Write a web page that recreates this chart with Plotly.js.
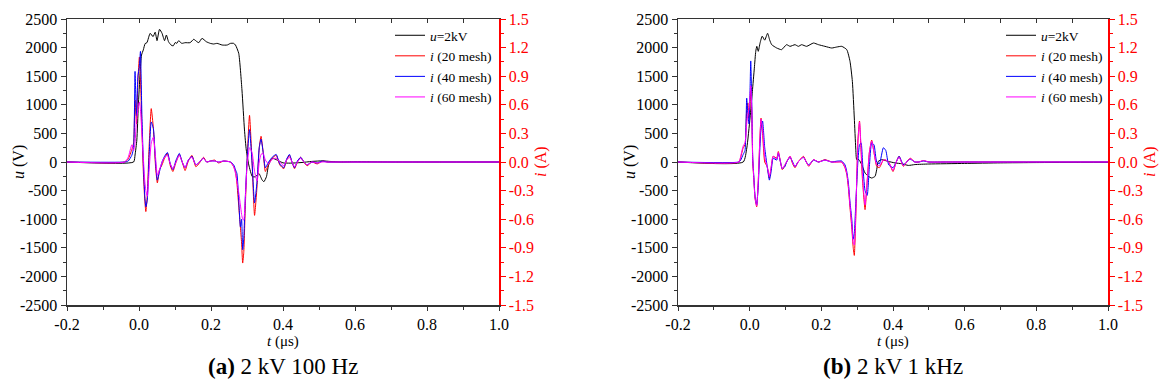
<!DOCTYPE html>
<html>
<head>
<meta charset="utf-8">
<script src="https://cdn.plot.ly/plotly-3.0.1.min.js"></script>
<style>html,body{margin:0;padding:0;background:#fff;}#chart{width:1166px;height:384px;}</style>
</head>
<body>
<div id="chart"></div>
<script>
// ---------- tick labels ----------
const tTicks = [-0.2, 0.0, 0.2, 0.4, 0.6, 0.8, 1.0];
const tLabels = ["-0.2", "0.0", "0.2", "0.4", "0.6", "0.8", "1.0"];
const uTicks = [-2500, -2000, -1500, -1000, -500, 0, 500, 1000, 1500, 2000, 2500];
const uLabels = ["-2500", "-2000", "-1500", "-1000", "-500", "0", "500", "1000", "1500", "2000", "2500"];
const iTicks = [-1.5, -1.2, -0.9, -0.6, -0.3, 0.0, 0.3, 0.6, 0.9, 1.2, 1.5];
const iLabels = ["-1.5", "-1.2", "-0.9", "-0.6", "-0.3", "0.0", "0.3", "0.6", "0.9", "1.2", "1.5"];

const seriesNames = ["<i>u</i>=2kV", "<i>i</i> (20 mesh)", "<i>i</i> (40 mesh)", "<i>i</i> (60 mesh)"];
const captions = ["<b>(a)</b> 2 kV 100 Hz", "<b>(b)</b> 2 kV 1 kHz"];
const axisTitles = {u: "<i>u</i> (V)", i: "<i>i</i> (A)", t: "<i>t</i> (μs)"};

// ---------- (a) 2 kV 100 Hz ----------
const tU_a = [-0.2, -0.015, -0.011, -0.006, -0.002, 0.003, 0.007, 0.012, 0.017, 0.022,
  0.031, 0.039, 0.045, 0.050, 0.057, 0.064, 0.071, 0.076, 0.082, 0.089,
  0.095, 0.101, 0.105, 0.110, 0.119, 0.128, 0.142, 0.152, 0.161, 0.166,
  0.175, 0.187, 0.198, 0.207, 0.217, 0.231, 0.245, 0.254, 0.263, 0.268,
  0.277, 0.286, 0.293, 0.298, 0.305, 0.315, 0.324, 0.333, 0.342, 0.347,
  0.354, 0.360, 0.370, 0.385, 0.40, 0.42, 0.45, 0.48, 0.51, 0.53,
  0.56, 0.6, 0.7, 1.0];
const u_a = [0, 0, 122, 385, 967, 1550, 1870, 1960, 2070, 2086,
  2250, 2191, 2270, 2121, 2320, 2250, 2121, 2220, 2103, 2045,
  2030, 2090, 2074, 2120, 2074, 2086, 2086, 2145, 2103, 2086,
  2162, 2103, 2074, 2063, 2074, 2045, 2045, 2074, 2074, 2045,
  1900, 1259, 560, 210, -52, -257, -257, -200, -315, -344,
  -257, -52, 65, 30, -15, -20, -10, 10, 20, 10,
  0, 5, 0, 0];

const tI_a = [-0.2, -0.04, -0.03, -0.02, -0.015, -0.011, -0.007, -0.003, 0.001, 0.004,
  0.008, 0.012, 0.016, 0.019, 0.023, 0.028, 0.034, 0.040, 0.046, 0.051,
  0.057, 0.064, 0.071, 0.079, 0.087, 0.094, 0.103, 0.112, 0.120, 0.128,
  0.137, 0.147, 0.158, 0.168, 0.179, 0.188, 0.198, 0.21, 0.221, 0.235,
  0.254, 0.263, 0.268, 0.272, 0.277, 0.2816, 0.285, 0.288, 0.291, 0.295,
  0.30, 0.307, 0.314, 0.321, 0.328, 0.334, 0.339, 0.345, 0.351, 0.36,
  0.370, 0.381, 0.391, 0.402, 0.410, 0.418, 0.425, 0.432, 0.440, 0.449,
  0.458, 0.467, 0.48, 0.495, 0.51, 0.523, 0.55, 0.6, 1.0];
const i20_a = [0, 0, 0.03, 0.13, 0.2, 0.65, 0.4, 0.85, 1.10, 0.9,
  0.35, -0.1, -0.4, -0.52, -0.35, 0.15, 0.56, 0.35, -0.05, -0.22,
  -0.08, -0.03, 0.04, 0.09, -0.04, -0.10, 0.0, 0.08, 0.0, -0.09,
  0.01, 0.07, -0.05, -0.01, 0.05, 0.0, 0.01, 0.02, -0.01, 0.01,
  0.0, -0.05, -0.10, -0.22, -0.46, -0.68, -0.85, -1.06, -0.95, -0.5,
  0.0, 0.49, 0.0, -0.56, -0.25, 0.15, 0.27, 0.1, -0.10, -0.02,
  0.04, 0.07, -0.03, -0.07, 0.02, 0.07, 0.0, -0.07, 0.0, 0.05,
  0.0, -0.04, 0.0, -0.02, 0.01, 0, 0, 0, 0];
const i40_a = [0, 0, 0.01, 0.07, 0.15, 0.95, 0.48, 0.9, 1.0, 1.16,
  0.5, 0.0, -0.35, -0.47, -0.4, 0.05, 0.42, 0.35, 0.0, -0.19,
  -0.1, 0.0, 0.06, 0.1, -0.02, -0.08, 0.02, 0.09, 0.0, -0.06,
  0.02, 0.06, -0.03, 0.0, 0.04, 0.0, 0.01, 0.01, 0.0, 0.01,
  0.0, -0.03, -0.08, -0.12, -0.4, -0.68, -0.6, -0.92, -0.8, -0.4,
  0.0, 0.34, 0.0, -0.43, -0.2, 0.15, 0.24, 0.1, -0.06, 0.0,
  0.05, 0.08, -0.02, -0.06, 0.03, 0.08, 0.0, -0.06, 0.01, 0.05,
  0.0, -0.03, 0.0, -0.01, 0.01, 0, 0, 0, 0];
const i60_a = [0, 0, 0.05, 0.18, 0.12, 0.2, 0.45, 0.55, 0.63, 0.55,
  0.3, 0.05, -0.2, -0.3, -0.36, -0.1, 0.2, 0.26, 0.05, -0.14,
  -0.08, 0.0, 0.05, 0.07, -0.02, -0.07, 0.0, 0.07, 0.0, -0.06,
  0.02, 0.05, -0.03, 0.0, 0.04, 0.0, 0.01, 0.01, 0.0, 0.01,
  0.0, -0.05, -0.12, -0.2, -0.32, -0.45, -0.55, -0.6, -0.61, -0.4,
  -0.05, 0.15, 0.1, -0.1, -0.2, 0.0, 0.08, 0.09, 0.02, -0.02,
  0.03, 0.04, 0.0, -0.04, 0.02, 0.05, 0.0, -0.05, 0.0, 0.04,
  0.0, -0.03, 0.0, -0.01, 0.0, 0, 0, 0, 0];

// ---------- (b) 2 kV 1 kHz ----------
const tU_b = [-0.2, -0.018, -0.008, 0.001, 0.0075, 0.013, 0.017, 0.020, 0.024, 0.029,
  0.035, 0.042, 0.050, 0.056, 0.0615, 0.0754, 0.089, 0.103, 0.1126, 0.1265,
  0.136, 0.145, 0.159, 0.178, 0.192, 0.210, 0.229, 0.243, 0.257, 0.271,
  0.280, 0.2866, 0.292, 0.296, 0.2987, 0.305, 0.3126, 0.322, 0.331, 0.3405,
  0.350, 0.3545, 0.359, 0.3685, 0.387, 0.406, 0.424, 0.443, 0.461, 0.5,
  0.6, 0.7, 0.8, 1.0];
const u_b = [0, 0, 245, 769, 1230, 1640, 1935, 2022, 1935, 2080,
  2200, 2130, 2250, 2130, 2051, 1993, 1964, 2051, 2022, 2051,
  2022, 2051, 2022, 2080, 2051, 2022, 1993, 2010, 2022, 1964,
  1760, 1410, 769, 245, 41, 41, -47, -192, -250, -280,
  -250, -134, 12, 40, 10, -17, -30, -60, -45, -35,
  -25, -15, -10, -5];

const tI_b = [-0.2, -0.03, -0.025, -0.018, -0.013, -0.0083, -0.005, -0.002, 0.001, 0.003,
  0.006, 0.0085, 0.012, 0.015, 0.0196, 0.024, 0.028, 0.0317, 0.036, 0.042,
  0.049, 0.055, 0.060, 0.0655, 0.0754, 0.080, 0.086, 0.091, 0.098, 0.103,
  0.1126, 0.120, 0.1265, 0.135, 0.150, 0.158, 0.165, 0.178, 0.192, 0.210,
  0.229, 0.245, 0.257, 0.266, 0.271, 0.2755, 0.280, 0.285, 0.289, 0.292,
  0.296, 0.302, 0.3065, 0.311, 0.315, 0.322, 0.328, 0.334, 0.3405, 0.347,
  0.3545, 0.362, 0.373, 0.38, 0.388, 0.40, 0.409, 0.417, 0.429, 0.438,
  0.448, 0.461, 0.472, 0.485, 0.5, 0.55, 0.6, 1.0];
const i20_b = [0, 0, 0.05, 0.15, 0.18, 0.55, 0.62, 0.46, 0.6, 0.75,
  0.5, 0.0, -0.2, -0.38, -0.47, -0.2, 0.2, 0.46, 0.3, 0.0,
  -0.05, -0.17, -0.06, 0.06, 0.04, 0.11, 0.0, -0.08, -0.04, 0.0,
  0.06, -0.02, -0.06, 0.0, 0.06, 0.0, -0.045, 0.025, 0.0, 0.025,
  0.0, 0.0, 0.0, -0.06, -0.13, -0.27, -0.48, -0.69, -0.9, -0.98,
  -0.6, 0.22, 0.43, 0.1, -0.2, -0.5, -0.2, 0.1, 0.23, 0.1,
  -0.045, -0.06, 0.02, 0.02, 0.0, -0.1, 0.0, 0.06, -0.045, 0.0,
  0.04, 0.0, 0.0, 0.015, 0, 0, 0, 0];
const i40_b = [0, 0, 0.02, 0.08, 0.12, 0.67, 0.5, 0.4, 0.75, 1.06,
  0.6, 0.05, -0.18, -0.36, -0.45, -0.25, 0.1, 0.35, 0.43, 0.15,
  -0.05, -0.19, -0.1, 0.04, 0.02, 0.09, 0.0, -0.07, -0.05, 0.0,
  0.05, 0.0, -0.05, 0.0, 0.05, 0.0, -0.03, 0.02, 0.0, 0.02,
  0.0, 0.01, 0.01, -0.03, -0.1, -0.22, -0.42, -0.6, -0.81, -0.75,
  -0.45, 0.0, 0.18, 0.2, 0.0, -0.3, -0.35, -0.05, 0.2, 0.18,
  0.0, -0.02, 0.15, 0.12, -0.03, -0.06, 0.0, 0.06, -0.03, 0.0,
  0.03, 0.0, 0.0, 0.01, 0, 0, 0, 0];
const i60_b = [0, 0, 0.06, 0.17, 0.2, 0.4, 0.5, 0.55, 0.7, 0.8,
  0.55, 0.05, -0.2, -0.38, -0.46, -0.2, 0.2, 0.45, 0.35, 0.05,
  -0.05, -0.15, -0.05, 0.06, 0.03, 0.1, 0.0, -0.07, -0.03, 0.0,
  0.06, -0.01, -0.05, 0.0, 0.05, 0.0, -0.04, 0.025, 0.0, 0.02,
  0.0, 0.0, 0.0, -0.05, -0.12, -0.25, -0.45, -0.65, -0.85, -0.87,
  -0.55, 0.2, 0.42, 0.15, -0.15, -0.45, -0.2, 0.1, 0.22, 0.1,
  -0.03, -0.04, 0.02, 0.02, 0.0, -0.09, 0.0, 0.05, -0.04, 0.0,
  0.035, 0.0, 0.0, 0.015, 0, 0, 0, 0];

// ---------- build ----------
const FONT = "'Liberation Serif', 'Times New Roman', 'DejaVu Serif', serif";
const colors = ["#000000", "#ff0000", "#0000ff", "#ff00ff"];
const W = 1166, H = 384;
const px = v => v / W;
const py = v => 1 - v / H;

function mkLine(x, y, xa, ya, k, legend) {
  return {x: x, y: y, xaxis: xa, yaxis: ya, type: "scatter", mode: "lines",
    name: seriesNames[k], legend: legend, showlegend: true,
    line: {color: colors[k], width: 1, shape: "spline", smoothing: 0.5},
    hoverinfo: "skip"};
}

const data = [
  mkLine(tU_a, u_a, "x", "y", 0, "legend"),
  mkLine(tI_a, i20_a, "x", "y2", 1, "legend"),
  mkLine(tI_a, i40_a, "x", "y2", 2, "legend"),
  mkLine(tI_a, i60_a, "x", "y2", 3, "legend"),
  {x: [], y: [], xaxis: "x3", yaxis: "y", type: "scatter", mode: "lines", showlegend: false},
  mkLine(tU_b, u_b, "x2", "y3", 0, "legend2"),
  mkLine(tI_b, i20_b, "x2", "y4", 1, "legend2"),
  mkLine(tI_b, i40_b, "x2", "y4", 2, "legend2"),
  mkLine(tI_b, i60_b, "x2", "y4", 3, "legend2"),
  {x: [], y: [], xaxis: "x4", yaxis: "y3", type: "scatter", mode: "lines", showlegend: false}
];

const AX = "#333333";
const yDom = [py(305), py(19)];
function xAxis(dom, anchor) {
  return {domain: dom, anchor: anchor, range: [-0.2, 1.0], showgrid: false, zeroline: false,
    tickmode: "array", tickvals: tTicks, ticktext: tLabels,
    ticks: "outside", ticklen: 4, tickwidth: 1, tickcolor: AX,
    minor: {ticks: "outside", ticklen: 3, tickmode: "linear", tick0: -0.2, dtick: 0.1, tickcolor: AX, tickwidth: 1},
    showline: true, linecolor: AX, linewidth: 1.5,
    tickfont: {family: FONT, size: 16, color: "#000"}};
}
function xTop(over, anchor) {
  return {overlaying: over, side: "top", anchor: anchor, range: [-0.2, 1.0], showgrid: false, zeroline: false,
    tickmode: "linear", tick0: -0.2, dtick: 0.1, ticks: "inside", ticklen: 4, tickwidth: 1, tickcolor: AX,
    showticklabels: false, showline: true, linecolor: AX, linewidth: 1.5};
}
function uAxis(anchor) {
  return {domain: yDom, anchor: anchor, range: [-2500, 2500], showgrid: false, zeroline: false,
    tickmode: "array", tickvals: uTicks, ticktext: uLabels,
    ticks: "outside", ticklen: 5, tickwidth: 1, tickcolor: AX,
    minor: {ticks: "outside", ticklen: 3, tickmode: "linear", tick0: -2500, dtick: 250, tickcolor: AX, tickwidth: 1},
    showline: true, linecolor: AX, linewidth: 1.5,
    tickfont: {family: FONT, size: 16, color: "#000"}};
}
function iAxis(over, anchor) {
  return {overlaying: over, side: "right", anchor: anchor, range: [-1.5, 1.5], showgrid: false, zeroline: false,
    tickmode: "array", tickvals: iTicks, ticktext: iLabels,
    ticks: "outside", ticklen: 5, tickwidth: 1, tickcolor: "#ff0000",
    minor: {ticks: "outside", ticklen: 3, tickmode: "linear", tick0: -1.5, dtick: 0.15, tickcolor: "#ff0000", tickwidth: 1},
    showline: true, linecolor: "#ff0000", linewidth: 1.5,
    tickfont: {family: FONT, size: 16, color: "#ff0000"}};
}
function legendAt(xPix) {
  return {x: px(xPix), y: py(20), xanchor: "left", yanchor: "top", bgcolor: "rgba(0,0,0,0)",
    borderwidth: 0, font: {family: FONT, size: 13.5, color: "#000"}, tracegroupgap: 0, itemwidth: 30};
}
function note(text, xPix, yPix, size, color, angle) {
  return {text: text, xref: "paper", yref: "paper", x: px(xPix), y: py(yPix), xanchor: "center", yanchor: "middle",
    showarrow: false, textangle: angle || 0, font: {family: FONT, size: size, color: color}};
}

const layout = {
  width: W, height: H, margin: {l: 0, r: 0, t: 0, b: 0},
  paper_bgcolor: "#ffffff", plot_bgcolor: "#ffffff",
  font: {family: FONT, size: 15, color: "#000"},
  xaxis: xAxis([px(67), px(499)], "y"),
  yaxis: uAxis("x"),
  yaxis2: iAxis("y", "x"),
  xaxis3: xTop("x", "y"),
  xaxis2: xAxis([px(678), px(1108)], "y3"),
  yaxis3: uAxis("x2"),
  yaxis4: iAxis("y3", "x2"),
  xaxis4: xTop("x2", "y3"),
  legend: legendAt(390),
  legend2: legendAt(1001),
  showlegend: true,
  annotations: [
    note(axisTitles.u, 19, 162, 16, "#000", -90),
    note(axisTitles.i, 541, 162, 16, "#ff0000", -90),
    note(axisTitles.t, 283, 341, 15, "#000"),
    note(axisTitles.u, 630, 162, 16, "#000", -90),
    note(axisTitles.i, 1150, 162, 16, "#ff0000", -90),
    note(axisTitles.t, 893, 341, 15, "#000"),
    note(captions[0], 283, 366, 23, "#000"),
    note(captions[1], 893, 366, 23, "#000")
  ]
};

Plotly.newPlot("chart", data, layout, {staticPlot: true, displayModeBar: false});
</script>
</body>
</html>
